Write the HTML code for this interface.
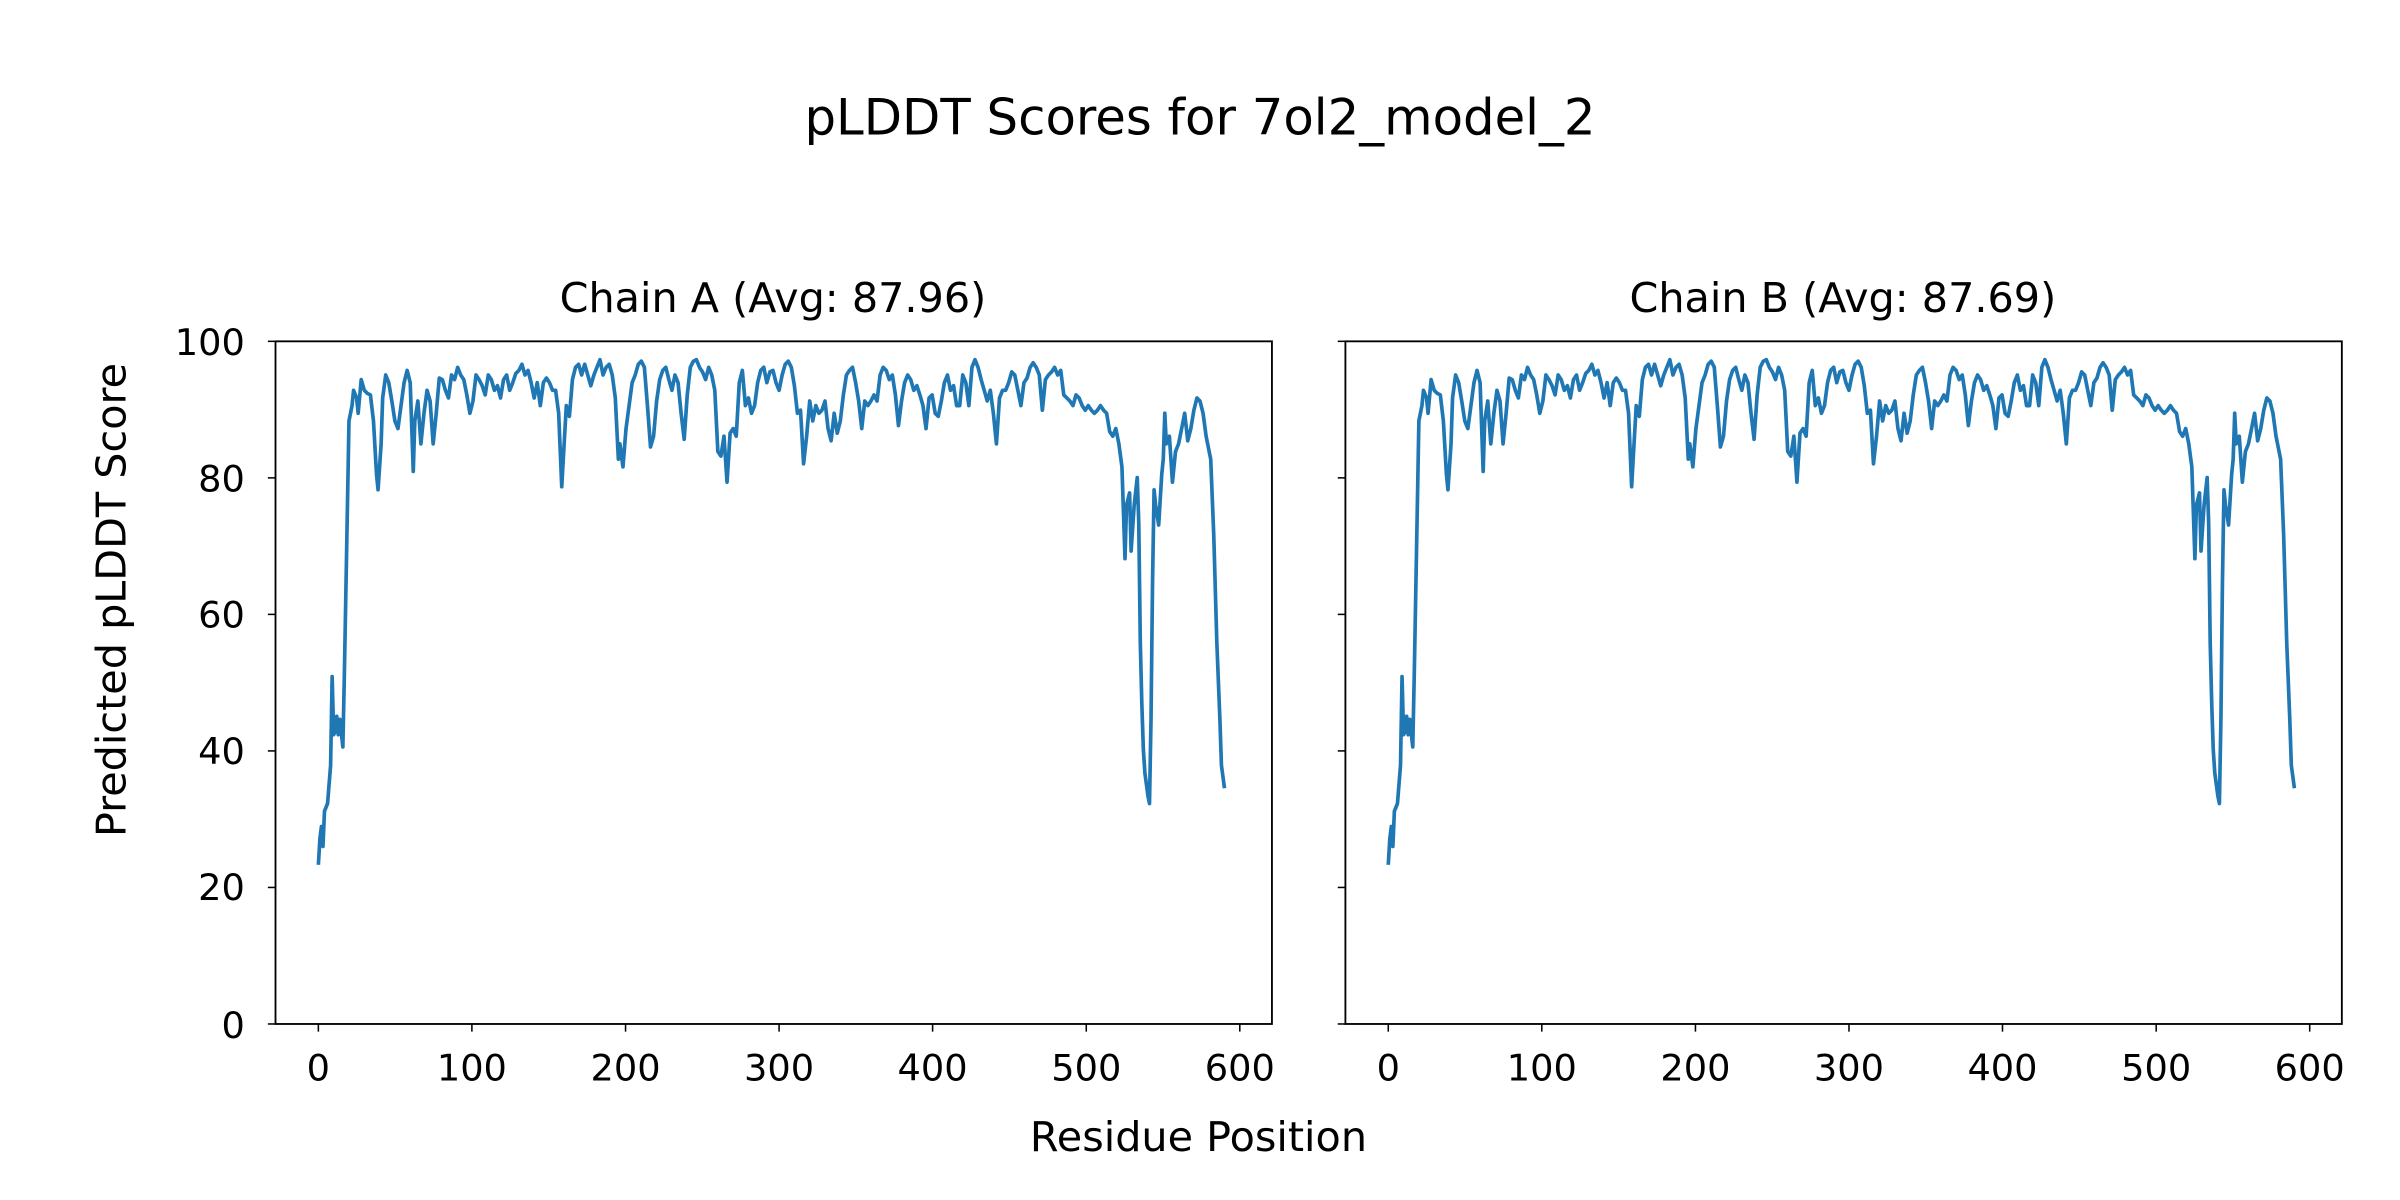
<!DOCTYPE html>
<html><head><style>body{margin:0;background:#fff}svg{display:block}text{font-family:"DejaVu Sans","Liberation Sans",sans-serif;fill:#000}</style></head><body>
<svg width="2400" height="1200" viewBox="0 0 1568 784" xmlns="http://www.w3.org/2000/svg">
<defs>
<polyline id="d" fill="none" stroke="#1f77b4" stroke-width="2.4" stroke-linejoin="round" points="208,565 209,548 210,540 211,553 212,530 214,525 216,500 217,442 218,480 219,478 220,468 221,480 222,470 224,488 225,440 227,330 228,275 230,265 231,255 233,260 234,270 236,248 238,255 240,257 242,258 244,275 246,310 247,320 249,290 250,260 252,245 254,250 256,262 258,275 260,280 262,265 264,250 266,242 268,250 270,308 271,275 273,262 275,290 277,270 279,255 281,262 283,290 285,270 287,247 289,248 291,255 293,260 295,245 297,248 299,240 301,245 303,248 305,258 307,270 309,262 311,245 313,248 315,252 317,258 319,245 321,248 323,255 325,252 327,260 329,248 331,245 333,255 335,250 337,244 339,242 341,238 343,245 345,242 347,250 349,260 351,250 353,265 355,250 357,247 359,250 361,255 363,255 365,270 367,318 368,300 370,265 372,272 374,248 376,240 378,238 380,245 382,238 384,245 386,252 388,245 390,240 392,235 394,245 396,240 398,238 400,245 402,260 404,300 405,290 407,305 409,280 411,265 413,250 415,245 417,238 419,236 421,240 423,265 425,292 427,285 429,262 431,248 433,242 435,240 437,248 439,255 441,245 443,250 445,270 447,287 449,258 451,240 453,236 455,235 457,240 459,243 461,248 463,240 465,245 467,255 469,295 471,298 473,285 475,315 477,283 479,280 481,285 483,250 485,242 487,265 489,260 491,270 493,265 495,250 497,242 499,240 501,250 503,243 505,242 507,250 509,255 511,245 513,238 515,236 517,240 519,252 521,270 523,268 525,303 527,285 529,262 531,275 533,265 535,270 537,268 539,262 541,280 543,288 545,270 547,283 549,275 551,258 553,245 555,242 557,240 559,250 561,262 563,280 565,262 567,265 569,262 571,258 573,262 575,245 577,240 579,242 581,248 583,245 585,258 587,278 589,262 591,250 593,245 595,248 597,255 599,252 601,258 603,265 605,280 607,260 609,258 611,270 613,272 615,262 617,250 619,245 621,255 623,252 625,265 627,265 629,245 631,250 633,265 635,240 637,235 639,240 641,248 643,255 645,262 647,255 649,270 651,290 653,260 655,255 657,255 659,250 661,243 663,245 665,255 667,265 669,250 671,247 673,240 675,237 677,240 679,245 681,268 683,248 685,245 687,243 689,240 691,245 693,242 695,258 697,260 699,262 701,265 703,258 705,260 707,265 709,268 711,265 713,268 715,270 717,268 719,265 721,268 723,270 725,282 727,285 729,280 731,290 733,305 735,365 736,330 738,322 739,360 741,330 743,312 744,342 745,420 746,460 747,490 748,505 750,520 751,525 752,470 753,380 754,320 755,330 757,343 759,310 760,300 761,270 762,290 764,285 766,315 768,295 770,290 772,280 774,270 776,288 778,280 780,268 782,260 784,262 786,270 788,285 791,300 793,350 795,420 797,470 798,500 800,515"/>
<g id="xt" stroke="#000" stroke-width="1">
<line x1="208" y1="669" x2="208" y2="674"/><line x1="308.3" y1="669" x2="308.3" y2="674"/><line x1="408.7" y1="669" x2="408.7" y2="674"/><line x1="509" y1="669" x2="509" y2="674"/><line x1="609.3" y1="669" x2="609.3" y2="674"/><line x1="709.7" y1="669" x2="709.7" y2="674"/><line x1="810" y1="669" x2="810" y2="674"/>
<line x1="180" y1="669" x2="175" y2="669"/><line x1="180" y1="579.8" x2="175" y2="579.8"/><line x1="180" y1="490.6" x2="175" y2="490.6"/><line x1="180" y1="401.4" x2="175" y2="401.4"/><line x1="180" y1="312.2" x2="175" y2="312.2"/><line x1="180" y1="223" x2="175" y2="223"/>
</g>
<g id="xl" font-size="24" text-anchor="middle">
<text x="208" y="706">0</text><text x="308.3" y="706">100</text><text x="408.7" y="706">200</text><text x="509" y="706">300</text><text x="609.3" y="706">400</text><text x="709.7" y="706">500</text><text x="810" y="706">600</text>
</g>
</defs>
<text x="784" y="88" font-size="32.5" text-anchor="middle">pLDDT Scores for 7ol2_model_2</text>
<use href="#d"/>
<rect x="180" y="223" width="651" height="446" fill="none" stroke="#000" stroke-width="1.2"/>
<use href="#xt"/><use href="#xl"/>
<g font-size="24" text-anchor="end">
<text x="160" y="678">0</text><text x="160" y="588">20</text><text x="160" y="499">40</text><text x="160" y="410">60</text><text x="160" y="321">80</text><text x="160" y="232">100</text>
</g>
<text x="505" y="204" font-size="27" text-anchor="middle">Chain A (Avg: 87.96)</text>
<g transform="translate(699,0)">
<use href="#d"/>
<rect x="180" y="223" width="651" height="446" fill="none" stroke="#000" stroke-width="1.2"/>
<use href="#xt"/><use href="#xl"/>
<text x="505" y="204" font-size="27" text-anchor="middle">Chain B (Avg: 87.69)</text>
</g>
<text x="783" y="752" font-size="27" text-anchor="middle">Residue Position</text>
<text transform="translate(82,392) rotate(-90)" font-size="27" text-anchor="middle">Predicted pLDDT Score</text>
</svg>
</body></html>
